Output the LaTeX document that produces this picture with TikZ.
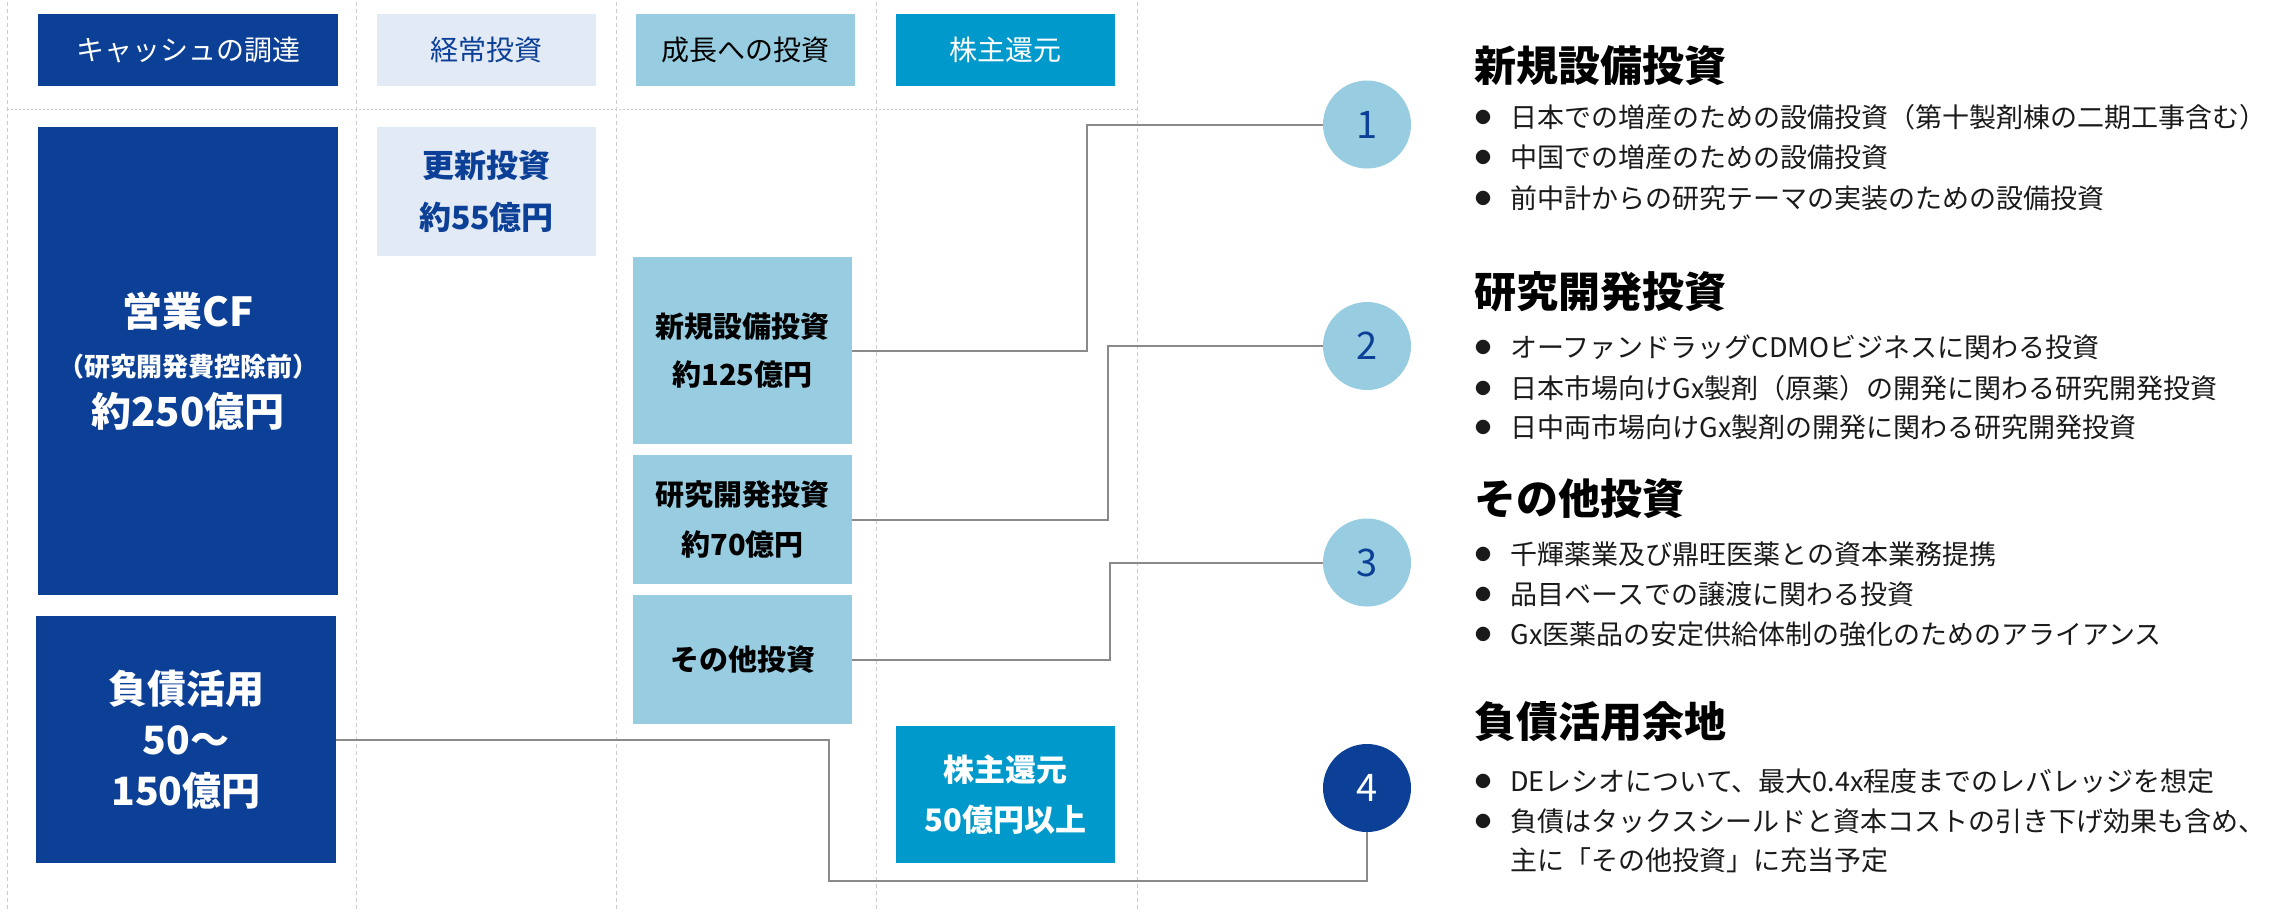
\documentclass[tikz,border=0pt]{standalone}
\usepackage{fontspec}
\setmainfont{Noto Sans CJK JP}
\definecolor{navy}{HTML}{0C3F96}
\definecolor{lav}{HTML}{E2EAF6}
\definecolor{sky}{HTML}{98CDE1}
\definecolor{cyan2}{HTML}{0099CB}
\definecolor{grid}{HTML}{CCCCCC}
\definecolor{conn}{HTML}{8A8A8A}
\definecolor{txt}{HTML}{1A1A1A}
\begin{document}
\begin{tikzpicture}[x=0.5pt,y=-0.5pt,
  box/.style={rectangle,inner sep=0pt,outer sep=0pt,align=center},
  hdr/.style={box,minimum height=36pt,font=\fontsize{14}{16}\selectfont},
  gridline/.style={draw=grid,line width=0.5pt,dash pattern=on 2pt off 1.5pt},
  link/.style={draw=conn,line width=1pt},
  num/.style={circle,minimum size=44pt,inner sep=0pt,font=\fontsize{19}{20}\selectfont},
  head/.style={anchor=west,inner sep=0pt,font=\fontsize{21}{24}\selectfont\bfseries,text=black},
  item/.style={anchor=west,inner sep=0pt,font=\fontsize{13.5}{16}\selectfont,text=txt},
  dot/.style={inner sep=0pt,font=\fontsize{8}{10}\selectfont,text=txt}
]
\useasboundingbox (0,0) rectangle (2285,912);
% grid
\foreach \gx in {7,356,616,876,1137}{\draw[gridline] (\gx,2) -- (\gx,912);}
\draw[gridline,dash pattern=on 1pt off 1pt] (7,109) -- (1137,109);
% headers
\node[hdr,fill=navy,text=white,minimum width=150pt] (h1) at (188,50) {キャッシュの調達};
\node[hdr,fill=lav,text=navy,minimum width=109.5pt] (h2) at (486.5,50) {経常投資};
\node[hdr,fill=sky,text=black,minimum width=109.5pt] (h3) at (745.5,50) {成長への投資};
\node[hdr,fill=cyan2,text=white,minimum width=109.5pt] (h4) at (1005.5,50) {株主還元};
% left boxes
\node[box,fill=navy,text=white,minimum width=150pt,minimum height=234pt,font=\fontsize{20}{25}\selectfont\bfseries] (cf) at (188,361)
  {営業CF\\{\fontsize{13}{25}\selectfont （研究開発費控除前）}\\約250億円};
\node[box,fill=navy,text=white,minimum width=150pt,minimum height=123.5pt,font=\fontsize{19.5}{25.5}\selectfont\bfseries] (debt) at (186,739.5)
  {負債活用\\50〜\\150億円};
\node[box,fill=lav,text=navy,minimum width=109.5pt,minimum height=64.5pt,font=\fontsize{16}{26}\selectfont\bfseries] (kosin) at (486.5,191.5)
  {更新投資\\約55億円};
\node[box,fill=sky,text=black,minimum width=109.5pt,minimum height=93.5pt,font=\fontsize{14.5}{24}\selectfont\bfseries] (shinki) at (742.5,350.5)
  {新規設備投資\\約125億円};
\node[box,fill=sky,text=black,minimum width=109.5pt,minimum height=64.5pt,font=\fontsize{14.5}{25}\selectfont\bfseries] (kenkyu) at (742.5,519.5)
  {研究開発投資\\約70億円};
\node[box,fill=sky,text=black,minimum width=109.5pt,minimum height=64.5pt,font=\fontsize{14.5}{25}\selectfont\bfseries] (sonota) at (742.5,659.5)
  {その他投資};
\node[box,fill=cyan2,text=white,minimum width=109.5pt,minimum height=68.5pt,font=\fontsize{15.5}{25}\selectfont\bfseries] (share) at (1005.5,794.5)
  {株主還元\\50億円以上};
% circles
\node[num,fill=sky,text=navy] (c1) at (1367,124.5) {1};
\node[num,fill=sky,text=navy] (c2) at (1367,346) {2};
\node[num,fill=sky,text=navy] (c3) at (1367,562.5) {3};
\node[num,fill=navy,text=white] (c4) at (1367,788) {4};
% connectors
\coordinate (k1) at (1087,350.5);
\coordinate (k2) at (1108,519.5);
\coordinate (k3) at (1110,659.5);
\coordinate (k4) at (829,881);
\draw[link] (shinki.east) -- (k1) |- (c1.west);
\draw[link] (kenkyu.east) -- (k2) |- (c2.west);
\draw[link] (sonota.east) -- (k3) |- (c3.west);
\draw[link] (debt.east) -| (k4) -| (c4.south);
% right texts
\node[head] (t1) at (1474,66) {新規設備投資};
\node[dot] (d11) at (1483,117) {●};
\node[item] (i11) at (1510,117) {日本での増産のための設備投資（第十製剤棟の二期工事含む）};
\node[dot] (d12) at (1483,157) {●};
\node[item] (i12) at (1510,157) {中国での増産のための設備投資};
\node[dot] (d13) at (1483,198) {●};
\node[item] (i13) at (1510,198) {前中計からの研究テーマの実装のための設備投資};

\node[head] (t2) at (1474,292) {研究開発投資};
\node[dot] (d21) at (1483,347) {●};
\node[item] (i21) at (1510,347) {オーファンドラッグCDMOビジネスに関わる投資};
\node[dot] (d22) at (1483,388) {●};
\node[item] (i22) at (1510,388) {日本市場向けGx製剤（原薬）の開発に関わる研究開発投資};
\node[dot] (d23) at (1483,427) {●};
\node[item] (i23) at (1510,427) {日中両市場向けGx製剤の開発に関わる研究開発投資};

\node[head] (t3) at (1474,499) {その他投資};
\node[dot] (d31) at (1483,554) {●};
\node[item] (i31) at (1510,554) {千輝薬業及び鼎旺医薬との資本業務提携};
\node[dot] (d32) at (1483,594) {●};
\node[item] (i32) at (1510,594) {品目ベースでの譲渡に関わる投資};
\node[dot] (d33) at (1483,634) {●};
\node[item] (i33) at (1510,634) {Gx医薬品の安定供給体制の強化のためのアライアンス};

\node[head] (t4) at (1474,722) {負債活用余地};
\node[dot] (d41) at (1483,781) {●};
\node[item] (i41) at (1510,781) {DEレシオについて、最大0.4x程度までのレバレッジを想定};
\node[dot] (d42) at (1483,821) {●};
\node[item] (i42) at (1510,821) {負債はタックスシールドと資本コストの引き下げ効果も含め、};
\node[item] (i43) at (1510,860) {主に「その他投資」に充当予定};
\end{tikzpicture}
\end{document}
